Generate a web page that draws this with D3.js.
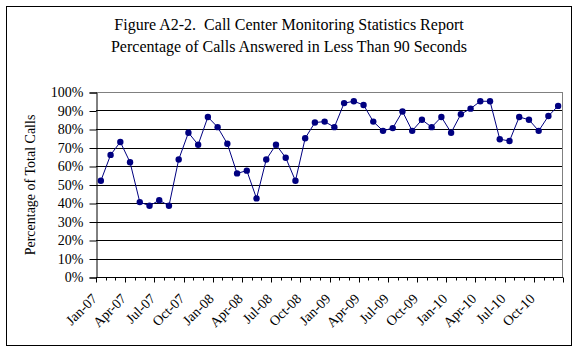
<!DOCTYPE html>
<html>
<head>
<meta charset="utf-8">
<script src="https://cdn.jsdelivr.net/npm/d3@7"></script>
<style>
  body { margin: 0; background: #fff; }
  text { font-family: "Liberation Serif", "Times New Roman", serif; }
</style>
</head>
<body>
<svg class="line-chart"></svg>
<script>
// months Jan-07 .. Dec-10
var years = ["07", "08", "09", "10"];
var monthNames = ["Jan", "Feb", "Mar", "Apr", "May", "Jun", "Jul", "Aug", "Sep", "Oct", "Nov", "Dec"];
var months = [];
years.forEach(function (y) {
    monthNames.forEach(function (m) { months.push(m + "-" + y); });
});

// percentage of calls answered in less than 90 seconds
var pctValues = [
    52, 66, 73, 62, 40.5, 38.5, 41.5, 38.5, 63.5, 78, 71.5, 86.5,
    81, 72, 56, 57.5, 42.5, 63.5, 71.5, 64.5, 52, 75, 83.5, 84,
    81, 94, 95, 93, 84, 79, 80.5, 89.5, 79, 85, 81, 86.5,
    78, 88, 91, 95, 95, 74.5, 73.5, 86.5, 85, 79, 87, 92.5
];

var yTicks = [0, 10, 20, 30, 40, 50, 60, 70, 80, 90, 100];
var titleLines = [
    "Figure A2-2.  Call Center Monitoring Statistics Report",
    "Percentage of Calls Answered in Less Than 90 Seconds"
];

var svgWidth = 578, svgHeight = 353;

var svg = d3.select('svg.line-chart')
    .attr("width", svgWidth)
    .attr("height", svgHeight);

// chart frame
svg.append("rect")
    .attr("x", 6.5).attr("y", 6.5)
    .attr("width", 565).attr("height", 339)
    .attr("fill", "#fff")
    .attr("stroke", "#000");

var plotLeft = 96, plotTop = 92, plotWidth = 467, plotHeight = 185;

var xScale = d3.scaleBand().domain(months).range([0, plotWidth]),
    yScale = d3.scaleLinear().domain([0, 100]).range([plotHeight, 0]);

var g = svg.append("g")
    .attr("transform", "translate(" + plotLeft + "," + plotTop + ")");

// Title (keep the double space after "A2-2.")
svg.selectAll("text.title")
    .data(titleLines)
    .enter()
    .append("text")
    .attr("class", "title")
    .attr("x", 289)
    .attr("y", function (d, i) { return 30 + i * 22; })
    .attr("text-anchor", "middle")
    .style("white-space", "pre")
    .style("font-size", "16px")
    .text(function (d) { return d; });

// Y label
svg.append("text")
    .attr("text-anchor", "middle")
    .attr("transform", "translate(35," + 185 + ")rotate(-90)")
    .style("font-size", "14px")
    .text("Percentage of Total Calls");

// gridlines
g.selectAll("line.grid")
    .data(yTicks)
    .enter()
    .append("line")
    .attr("class", "grid")
    .attr("x1", 0)
    .attr("x2", plotWidth)
    .attr("y1", function (d) { return Math.round(yScale(d)) + 0.5; })
    .attr("y2", function (d) { return Math.round(yScale(d)) + 0.5; })
    .attr("stroke", function (d) { return d === 100 ? "#808080" : "#000"; });

// right border of plot area
g.append("line")
    .attr("x1", plotWidth - 0.5).attr("x2", plotWidth - 0.5)
    .attr("y1", 0.5).attr("y2", plotHeight)
    .attr("stroke", "#808080");

// y axis
var yAxis = g.append("g")
    .attr("transform", "translate(0.5,0.5)")
    .call(d3.axisLeft(yScale).tickValues(yTicks).tickSize(7).tickPadding(6)
        .tickFormat(function (d) { return d + "%"; }));
yAxis.selectAll("text")
    .style("font-family", "Liberation Serif")
    .style("font-size", "14px")
    .attr("fill", "#000");
yAxis.selectAll("line, path").attr("stroke", "#000");

// x axis (ticks between categories, every 3rd one longer)
var boundaries = d3.range(months.length + 1);
var xAxis = g.append("g").attr("transform", "translate(0," + (plotHeight + 0.5) + ")");
xAxis.append("line")
    .attr("x1", 0).attr("x2", plotWidth)
    .attr("stroke", "#000");
xAxis.selectAll("line.tick")
    .data(boundaries)
    .enter()
    .append("line")
    .attr("class", "tick")
    .attr("x1", function (d) { return Math.round(d * xScale.step()) + 0.5; })
    .attr("x2", function (d) { return Math.round(d * xScale.step()) + 0.5; })
    .attr("y1", 0)
    .attr("y2", function (d) { return d % 3 === 0 ? 5 : 3; })
    .attr("stroke", "#000");

xAxis.selectAll("text")
    .data(months.filter(function (d, i) { return i % 3 === 0; }))
    .enter()
    .append("text")
    .attr("text-anchor", "end")
    .attr("transform", function (d) {
        return "translate(" + (xScale(d) + xScale.bandwidth() / 2 - 3) + ",22)rotate(-45)";
    })
    .style("font-size", "14px")
    .text(function (d) { return d; });

// line
var line = d3.line()
    .x(function (d, i) { return xScale(months[i]) + xScale.bandwidth() / 2; })
    .y(function (d) { return yScale(d); });

g.append("path")
    .datum(pctValues)
    .attr("d", line)
    .style("fill", "none")
    .style("stroke", "#000080")
    .style("stroke-width", "1");

g.selectAll("circle")
    .data(pctValues)
    .enter()
    .append("circle")
    .attr("cx", function (d, i) { return xScale(months[i]) + xScale.bandwidth() / 2; })
    .attr("cy", function (d) { return yScale(d); })
    .attr("r", 3.2)
    .style("fill", "#000080");
</script>
</body>
</html>
